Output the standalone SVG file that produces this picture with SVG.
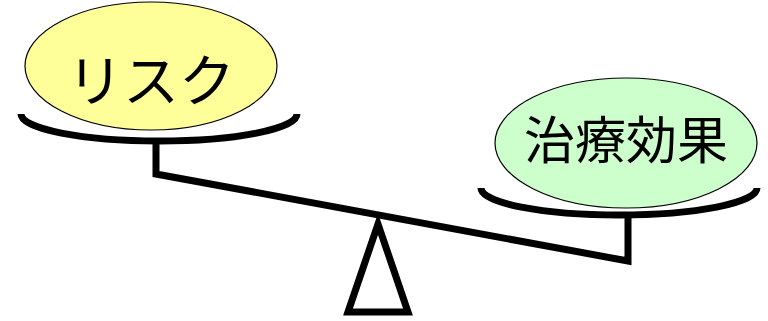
<svg xmlns="http://www.w3.org/2000/svg" width="768" height="321" viewBox="0 0 768 321">
<style>
.ln{fill:none;stroke:#000;stroke-width:7}
.tx{font-family:"Noto Sans CJK JP","Noto Sans CJK SC",sans-serif;fill:#000;text-anchor:middle}
</style>
<rect width="768" height="321" fill="#fff"/>
<g id="connectors">
<path class="ln" d="M156,140 V174 L628,261 V215"/>
<path class="ln" d="M348,312 L378,224 L408,312 Z" stroke-linejoin="miter"/>
</g>
<g id="pan-left"><path class="ln" d="M21,114 A138,27 0 0 0 297,114"/></g>
<g id="pan-right"><path class="ln" d="M481,188 A138,27 0 0 0 757,188"/></g>
<g id="risk">
<ellipse cx="151" cy="66" rx="126" ry="64" fill="#ffff99" stroke="#000" stroke-width="1.2"/>
<text class="tx" x="151" y="101" font-size="56">リスク</text>
</g>
<g id="effect">
<ellipse cx="626" cy="143" rx="131" ry="65" fill="#ccffcc" stroke="#000" stroke-width="1.2"/>
<text class="tx" x="626" y="159" font-size="51">治療効果</text>
</g>
</svg>
